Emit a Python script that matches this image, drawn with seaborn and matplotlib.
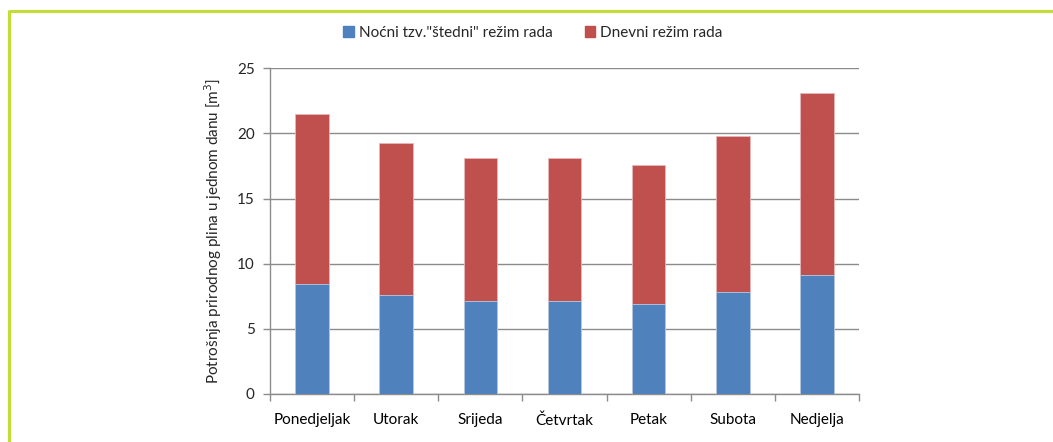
import numpy as np
import pandas as pd
import seaborn as sns
import matplotlib.pyplot as plt
from matplotlib.lines import Line2D
from matplotlib.patches import Patch

# podaci
dani = ['Ponedjeljak', 'Utorak', 'Srijeda', 'Četvrtak', 'Petak', 'Subota', 'Nedjelja']
nocni = [8.42, 7.57, 7.14, 7.14, 6.93, 7.80, 9.11]
dnevni = [13.05, 11.67, 11.00, 11.00, 10.67, 12.00, 13.99]

lbl_nocni = 'Noćni tzv."štedni" režim rada'
lbl_dnevni = 'Dnevni režim rada'
c_plava = '#4f81bd'
c_crvena = '#c0504d'
c_siva = '#8c8c8c'

sns.set_theme(style='white')
plt.rcParams['font.family'] = ['Lato', 'DejaVu Sans']

df = pd.DataFrame({'dan': dani, 'nocni': nocni, 'dnevni': dnevni})
df['ukupno'] = df['nocni'] + df['dnevni']

fig = plt.figure(figsize=(10.53, 4.42), dpi=100)
ax = fig.add_axes([0.2564, 0.1086, 0.5594, 0.7369])

# naslagani stupci: ukupno (crveno) pa noćni (plavo) preko
sns.barplot(data=df, x='dan', y='ukupno', color=c_crvena, saturation=1, width=0.4,
            edgecolor='#e6b8b7', linewidth=0.6, ax=ax, zorder=3)
sns.barplot(data=df, x='dan', y='nocni', color=c_plava, saturation=1, width=0.4,
            edgecolor='#b8cce4', linewidth=0.6, ax=ax, zorder=4)

ax.set_ylim(0, 25)
ax.set_xlim(-0.5, len(dani) - 0.5)
ax.set_yticks(np.arange(0, 26, 5))
ax.yaxis.grid(True, color=c_siva, linewidth=1)
ax.set_axisbelow(True)
for s in ['top', 'right']:
    ax.spines[s].set_visible(False)
for s in ['left', 'bottom']:
    ax.spines[s].set_color(c_siva)
    ax.spines[s].set_linewidth(1)

ax.set_xticks(np.arange(-0.5, len(dani)), minor=True)
ax.tick_params(axis='x', which='major', length=0, pad=14, labelsize=11, colors='black')
ax.tick_params(axis='x', which='minor', length=5, color=c_siva, width=1, direction='out', bottom=True)
ax.tick_params(axis='y', length=5, color=c_siva, width=1, direction='out', left=True,
               labelsize=11, pad=6)
ax.set_xlabel('')
ax.set_ylabel('Potrošnja prirodnog plina u jednom danu [m$^3$]', fontsize=11, labelpad=9)

h = [Patch(color=c_plava), Patch(color=c_crvena)]
fig.legend(h, [lbl_nocni, lbl_dnevni], loc='center', bbox_to_anchor=(0.506, 1 - 33 / 442),
           ncol=2, frameon=False, fontsize=11, handlelength=0.7, handleheight=0.7,
           handletextpad=0.3, columnspacing=2.1)

# zeleni okvir
zelena = '#c4dc3a'
fig.add_artist(Line2D([8.5 / 1053, 1], [1 - 10.5 / 442, 1 - 10.5 / 442],
                      transform=fig.transFigure, color=zelena, lw=2.3, solid_capstyle='butt'))
fig.add_artist(Line2D([8.5 / 1053, 8.5 / 1053], [0, 1 - 9.5 / 442],
                      transform=fig.transFigure, color=zelena, lw=2.3, solid_capstyle='butt'))

plt.savefig('out.png', dpi=100)
